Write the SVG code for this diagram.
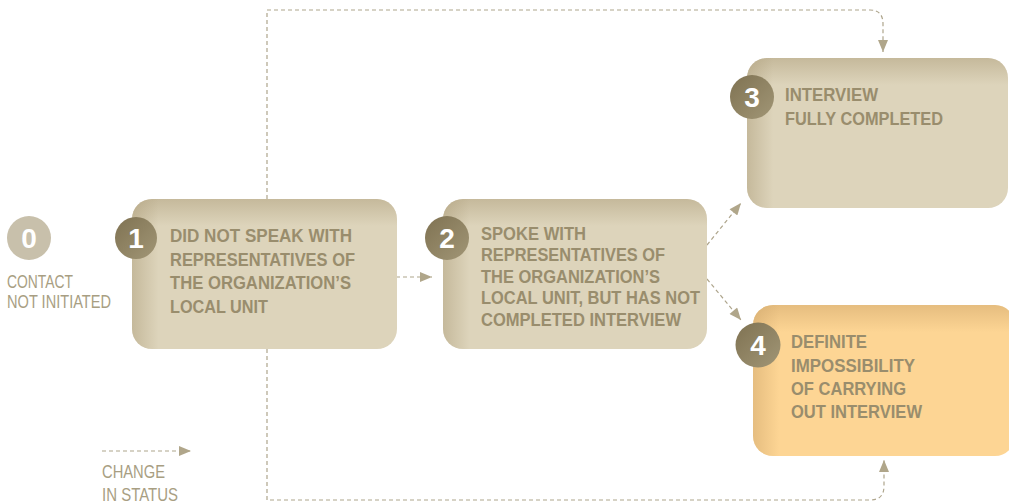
<svg xmlns="http://www.w3.org/2000/svg" width="1009" height="504" viewBox="0 0 1009 504">
<style>
.bt{font-family:"Liberation Sans",Arial,sans-serif;font-weight:bold;font-size:17.5px;fill:#998d6d}
.b2{font-size:18px}
.lt{font-family:"Liberation Sans",Arial,sans-serif;font-size:18.5px;fill:#a89e82}
.num{font-family:"Liberation Sans",Arial,sans-serif;font-weight:bold;font-size:28px;fill:#ffffff;text-anchor:middle}
.con{fill:none;stroke:#aea58c;stroke-width:1.2;stroke-dasharray:4 3}
</style>
<defs>
<marker id="ah" viewBox="0 0 12 10" refX="12" refY="5" markerUnits="userSpaceOnUse" markerWidth="13" markerHeight="10" orient="auto">
<path d="M0,0 L12,5 L0,10 z" fill="#b0a68a"/>
</marker>
<linearGradient id="tg" x1="0" y1="0" x2="0" y2="1">
<stop offset="0" stop-color="#a89874" stop-opacity="0.45"/>
<stop offset="0.18" stop-color="#a89874" stop-opacity="0"/>
</linearGradient>
<linearGradient id="lg" x1="0" y1="0" x2="1" y2="0">
<stop offset="0" stop-color="#a89874" stop-opacity="0.45"/>
<stop offset="0.1" stop-color="#a89874" stop-opacity="0"/>
</linearGradient>
<linearGradient id="tgo" x1="0" y1="0" x2="0" y2="1">
<stop offset="0" stop-color="#c9a066" stop-opacity="0.45"/>
<stop offset="0.18" stop-color="#c9a066" stop-opacity="0"/>
</linearGradient>
<linearGradient id="lgo" x1="0" y1="0" x2="1" y2="0">
<stop offset="0" stop-color="#c9a066" stop-opacity="0.45"/>
<stop offset="0.1" stop-color="#c9a066" stop-opacity="0"/>
</linearGradient>
<linearGradient id="cg" x1="0" y1="0" x2="1" y2="1">
<stop offset="0" stop-color="#7f7252"/>
<stop offset="1" stop-color="#a19676"/>
</linearGradient>
</defs>

<g id="connectors">
<path class="con" d="M267,199 V10 H870 Q883,10 883,24 V52" marker-end="url(#ah)"/>
<path class="con" d="M267,349 V500 H870 Q884,500 884,486 V460" marker-end="url(#ah)"/>
<path class="con" d="M396,277 L432,277" marker-end="url(#ah)"/>
<path class="con" d="M707,245 L741,203" marker-end="url(#ah)"/>
<path class="con" d="M707,279 L741,320" marker-end="url(#ah)"/>
</g>

<g id="node0">
<circle cx="29" cy="238" r="22" fill="#c8c0ab"/>
<text class="num" x="29" y="248">0</text>
<text class="lt" x="7" y="288" textLength="66" lengthAdjust="spacingAndGlyphs">CONTACT</text>
<text class="lt" x="7" y="308" textLength="104" lengthAdjust="spacingAndGlyphs">NOT INITIATED</text>
</g>

<g id="node1">
<rect x="132" y="199" width="265" height="150" rx="20" fill="#ddd4bb"/>
<rect x="132" y="199" width="265" height="150" rx="20" fill="url(#tg)"/>
<rect x="132" y="199" width="265" height="150" rx="20" fill="url(#lg)"/>
<circle cx="136" cy="238" r="21" fill="url(#cg)"/>
<text class="num" x="136" y="248">1</text>
<text class="bt" x="170" y="242" textLength="182" lengthAdjust="spacingAndGlyphs">DID NOT SPEAK WITH</text>
<text class="bt" x="170" y="266" textLength="185" lengthAdjust="spacingAndGlyphs">REPRESENTATIVES OF</text>
<text class="bt" x="170" y="289" textLength="181" lengthAdjust="spacingAndGlyphs">THE ORGANIZATION’S</text>
<text class="bt" x="170" y="313" textLength="98" lengthAdjust="spacingAndGlyphs">LOCAL UNIT</text>
</g>

<g id="node2">
<rect x="443" y="199" width="264" height="150" rx="20" fill="#ddd4bb"/>
<rect x="443" y="199" width="264" height="150" rx="20" fill="url(#tg)"/>
<rect x="443" y="199" width="264" height="150" rx="20" fill="url(#lg)"/>
<circle cx="447" cy="238" r="22" fill="url(#cg)"/>
<text class="num" x="447" y="248">2</text>
<text class="bt b2" x="481" y="240" textLength="105" lengthAdjust="spacingAndGlyphs">SPOKE WITH</text>
<text class="bt b2" x="481" y="261" textLength="184" lengthAdjust="spacingAndGlyphs">REPRESENTATIVES OF</text>
<text class="bt b2" x="481" y="283" textLength="179" lengthAdjust="spacingAndGlyphs">THE ORGANIZATION’S</text>
<text class="bt b2" x="481" y="304" textLength="219" lengthAdjust="spacingAndGlyphs">LOCAL UNIT, BUT HAS NOT</text>
<text class="bt b2" x="481" y="326" textLength="200" lengthAdjust="spacingAndGlyphs">COMPLETED INTERVIEW</text>
</g>

<g id="node3">
<rect x="747" y="58" width="261" height="150" rx="20" fill="#ddd4bb"/>
<rect x="747" y="58" width="261" height="150" rx="20" fill="url(#tg)"/>
<rect x="747" y="58" width="261" height="150" rx="20" fill="url(#lg)"/>
<circle cx="752" cy="97" r="22" fill="url(#cg)"/>
<text class="num" x="752" y="107">3</text>
<text class="bt" x="785" y="101" textLength="93" lengthAdjust="spacingAndGlyphs">INTERVIEW</text>
<text class="bt" x="785" y="125" textLength="158" lengthAdjust="spacingAndGlyphs">FULLY COMPLETED</text>
</g>

<g id="node4">
<rect x="753" y="305" width="262" height="151" rx="20" fill="#fdd594"/>
<rect x="753" y="305" width="262" height="151" rx="20" fill="url(#tgo)"/>
<rect x="753" y="305" width="262" height="151" rx="20" fill="url(#lgo)"/>
<circle cx="758" cy="345" r="22.5" fill="url(#cg)"/>
<text class="num" x="758" y="355">4</text>
<text class="bt" x="791" y="348" textLength="76" lengthAdjust="spacingAndGlyphs">DEFINITE</text>
<text class="bt" x="791" y="372" textLength="124" lengthAdjust="spacingAndGlyphs">IMPOSSIBILITY</text>
<text class="bt" x="791" y="395" textLength="115" lengthAdjust="spacingAndGlyphs">OF CARRYING</text>
<text class="bt" x="791" y="418" textLength="131" lengthAdjust="spacingAndGlyphs">OUT INTERVIEW</text>
</g>

<g id="legend">
<path class="con" d="M102,451 H191" marker-end="url(#ah)"/>
<text class="lt" x="102" y="478" textLength="63" lengthAdjust="spacingAndGlyphs">CHANGE</text>
<text class="lt" x="102" y="501" textLength="76" lengthAdjust="spacingAndGlyphs">IN STATUS</text>
</g>
</svg>
